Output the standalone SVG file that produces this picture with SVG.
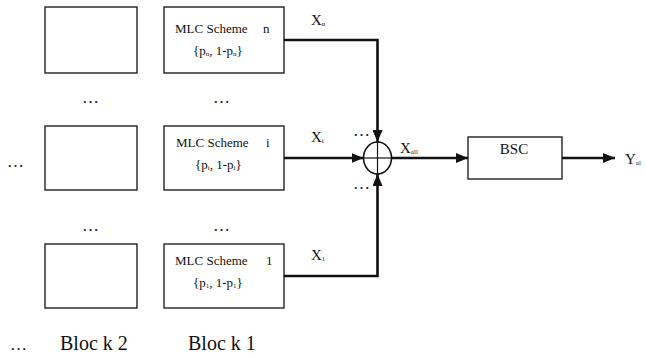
<svg xmlns="http://www.w3.org/2000/svg" width="646" height="358" viewBox="0 0 646 358">
  <style>
    text { font-family: "Liberation Serif", "Times New Roman", serif; fill: #111; }
    .box { fill: #fff; stroke: #222; stroke-width: 1.4; }
    .wire { fill: none; stroke: #111; stroke-width: 2.6; }
    .thin { fill: none; stroke: #111; stroke-width: 1.2; }
    .lbl { font-size: 13px; }
    .xl { font-size: 15px; }
    .sub { font-size: 7px; }
    .dots { font-size: 17px; }
    .blk { font-size: 20px; }
  </style>
  <defs>
    <marker id="ah" markerUnits="userSpaceOnUse" markerWidth="12" markerHeight="10" refX="12" refY="5" orient="auto">
      <path d="M0,0 L12,5 L0,10 z" fill="#111"/>
    </marker>
  </defs>

  <g id="block2-n"><rect class="box" x="45" y="7" width="92" height="66"/></g>
  <g id="block2-i"><rect class="box" x="45" y="126" width="92" height="64"/></g>
  <g id="block2-1"><rect class="box" x="45" y="244" width="92" height="64"/></g>

  <g id="mlc-n">
    <rect class="box" x="164" y="7" width="120" height="66"/>
    <text class="lbl" x="175" y="33">MLC Scheme<tspan x="263">n</tspan></text>
    <text class="lbl" x="193" y="55">{p<tspan class="sub" dy="1">n</tspan><tspan dy="-1">, 1-p</tspan><tspan class="sub" dy="1">n</tspan><tspan dy="-1">}</tspan></text>
  </g>
  <g id="mlc-i">
    <rect class="box" x="164" y="126" width="120" height="64"/>
    <text class="lbl" x="176" y="147">MLC Scheme<tspan x="266">i</tspan></text>
    <text class="lbl" x="195" y="169">{p<tspan class="sub" dy="1">i</tspan><tspan dy="-1">, 1-p</tspan><tspan class="sub" dy="1">i</tspan><tspan dy="-1">}</tspan></text>
  </g>
  <g id="mlc-1">
    <rect class="box" x="164" y="244" width="120" height="64"/>
    <text class="lbl" x="175" y="265">MLC Scheme<tspan x="266">1</tspan></text>
    <text class="lbl" x="193" y="287">{p<tspan class="sub" dy="1">1</tspan><tspan dy="-1">, 1-p</tspan><tspan class="sub" dy="1">1</tspan><tspan dy="-1">}</tspan></text>
  </g>

  <g id="sum">
    <ellipse cx="377.5" cy="158" rx="14" ry="16" fill="#fff" stroke="#111" stroke-width="1.6"/>
    <line class="thin" x1="363.5" y1="158" x2="391.5" y2="158"/>
    <line class="thin" x1="377.5" y1="142" x2="377.5" y2="174"/>
  </g>

  <g id="bsc">
    <rect class="box" x="468" y="137" width="94" height="42"/>
    <text x="514" y="154" font-size="15" text-anchor="middle">BSC</text>
  </g>

  <g id="connectors">
    <polyline class="wire" points="284,40 377.5,40 377.5,142" marker-end="url(#ah)"/>
    <line class="wire" x1="284" y1="158" x2="363.5" y2="158" marker-end="url(#ah)"/>
    <polyline class="wire" points="284,276 377.5,276 377.5,174" marker-end="url(#ah)"/>
    <line class="wire" x1="391.5" y1="158" x2="468" y2="158" marker-end="url(#ah)"/>
    <line class="wire" x1="562" y1="158" x2="615" y2="158" marker-end="url(#ah)"/>
  </g>

  <g id="labels">
    <text class="xl" x="311" y="25">X<tspan class="sub" dy="1">n</tspan></text>
    <text class="xl" x="311" y="142">X<tspan class="sub" dy="1">i</tspan></text>
    <text class="xl" x="311" y="260">X<tspan class="sub" dy="1">1</tspan></text>
    <text class="xl" x="400" y="153">X<tspan class="sub" dy="1">all</tspan></text>
    <text class="xl" x="625" y="164">Y<tspan class="sub" dy="1">al</tspan></text>
    <text class="dots" x="353" y="136">…</text>
    <text class="dots" x="353" y="189">…</text>
    <text class="dots" x="82" y="103">…</text>
    <text class="dots" x="213" y="103">…</text>
    <text class="dots" x="7" y="167">…</text>
    <text class="dots" x="82" y="231">…</text>
    <text class="dots" x="213" y="231">…</text>
    <text class="dots" x="10" y="350">…</text>
    <text class="blk" x="60" y="350">Bloc k 2</text>
    <text class="blk" x="188" y="350">Bloc k 1</text>
  </g>
</svg>
